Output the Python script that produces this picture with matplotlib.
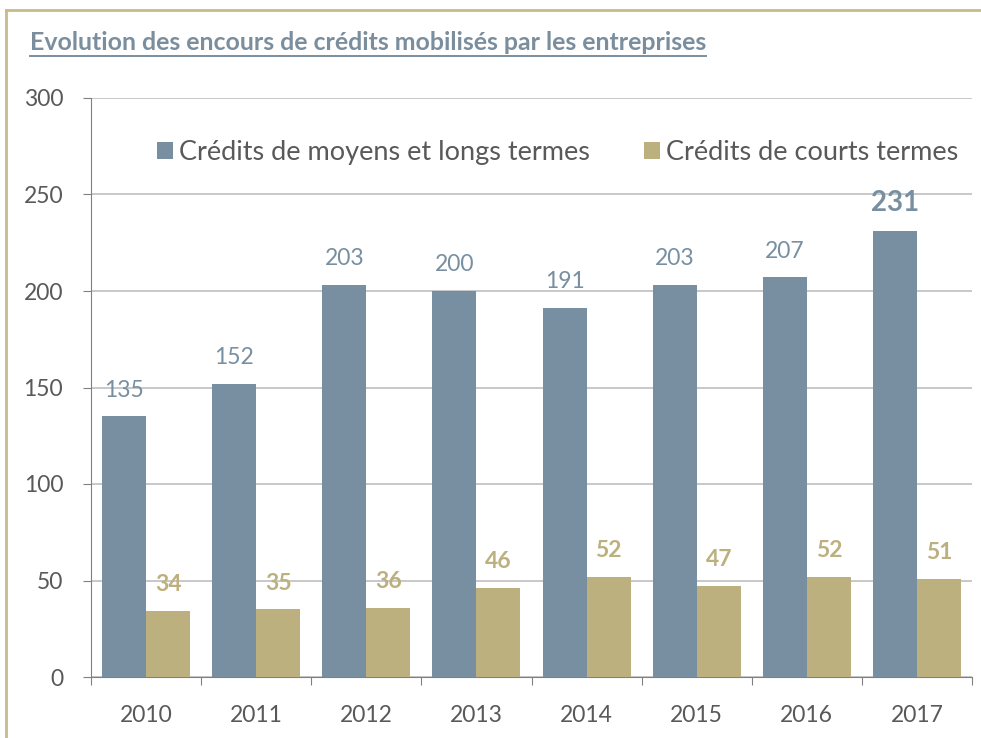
import matplotlib
matplotlib.use("Agg")
import matplotlib.pyplot as plt
import numpy as np
from matplotlib.lines import Line2D

plt.rcParams['font.family'] = ['Lato', 'DejaVu Sans']

years = ["2010", "2011", "2012", "2013", "2014", "2015", "2016", "2017"]
long_term = [135, 152, 203, 200, 191, 203, 207, 231]
short_term = [34, 35, 36, 46, 52, 47, 52, 51]
series_names = ["Crédits de moyens et longs termes", "Crédits de courts termes"]
title = "Evolution des encours de crédits mobilisés par les entreprises"

c_blue = "#778FA0"
c_tan = "#BDB07F"
c_text = "#595959"
c_title = "#7A8E9E"

fig = plt.figure(figsize=(9.81, 7.38), dpi=100)
W, H = 981, 738
ax = fig.add_axes([91 / W, 1 - 677 / H, (972 - 91) / W, (677 - 98) / H])

x = np.arange(len(years))
bw = 0.4
ax.bar(x - bw / 2, long_term, bw, color=c_blue, label=series_names[0], zorder=3)
ax.bar(x + bw / 2, short_term, bw, color=c_tan, label=series_names[1], zorder=3)

for i, v in enumerate(long_term):
    if i == len(long_term) - 1:
        ax.annotate(str(v), (x[i] - bw / 2, v), xytext=(0, 20), textcoords="offset points",
                    ha="center", va="center", color=c_blue, fontsize=20, fontweight="bold")
    else:
        ax.annotate(str(v), (x[i] - bw / 2, v), xytext=(0, 19), textcoords="offset points",
                    ha="center", va="center", color=c_blue, fontsize=16.5)
for i, v in enumerate(short_term):
    ax.annotate(str(v), (x[i] + bw / 2, v), xytext=(0, 19), textcoords="offset points",
                ha="center", va="center", color=c_tan, fontsize=16.5, fontweight="bold")

ax.set_xlim(-0.5, len(years) - 0.5)
ax.set_ylim(0, 300)
ax.set_yticks(range(0, 301, 50))
ax.set_xticks(np.arange(-0.5, len(years), 1), minor=False)
ax.set_xticklabels([])
ax.set_xticks(x, minor=True)
ax.set_xticklabels(years, minor=True)
ax.tick_params(axis="x", which="minor", length=0, pad=20, labelsize=16.5, labelcolor=c_text)
ax.tick_params(axis="x", which="major", length=6, color="#808080", direction="out")
ax.tick_params(axis="y", length=6, color="#808080", labelsize=16.5, labelcolor=c_text, pad=14)
ax.yaxis.grid(True, color="#BFBFBF", linewidth=1.2, zorder=0)
ax.set_axisbelow(True)
for s in ["top", "right"]:
    ax.spines[s].set_visible(False)
ax.spines["left"].set_color("#808080")
ax.spines["bottom"].set_color("#808080")

leg = ax.legend(loc="center right", bbox_to_anchor=(1.0, 0.906), ncol=2, frameon=False,
                fontsize=19.5, handlelength=0.6, handleheight=0.6, handletextpad=0.22,
                columnspacing=2.0, labelcolor=c_text, borderpad=0)

# Title with underline
t = fig.text(30 / W, 1 - 42 / H, title, fontsize=17.9, fontweight="bold", color=c_title,
             ha="left", va="center")
fig.canvas.draw()
bb = t.get_window_extent()
fig.add_artist(Line2D([bb.x0 / W, bb.x1 / W], [(bb.y0 - 2) / H] * 2, color=c_title, lw=1.4,
                      transform=fig.transFigure))

# outer border
bc = "#C8BB8A"
fig.add_artist(Line2D([6 / W, 1.0], [1 - 10 / H] * 2, color=bc, lw=2, transform=fig.transFigure))
fig.add_artist(Line2D([6 / W] * 2, [0, 1 - 10 / H], color=bc, lw=2, transform=fig.transFigure))

fig.savefig("out.png", dpi=100)
